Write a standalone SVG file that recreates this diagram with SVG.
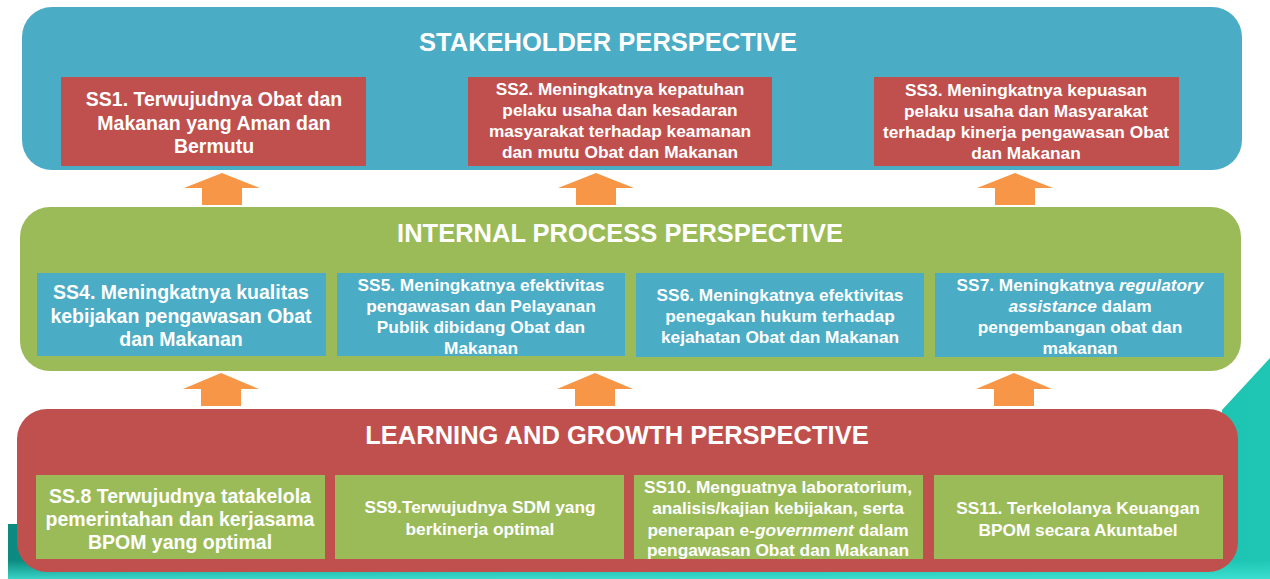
<svg xmlns="http://www.w3.org/2000/svg" width="1270" height="579" viewBox="0 0 1270 579">
<defs>
<linearGradient id="teal" x1="0" y1="0" x2="1" y2="0">
<stop offset="0" stop-color="#0c8a80"/>
<stop offset="0.35" stop-color="#14a89c"/>
<stop offset="1" stop-color="#1fc6b4"/>
</linearGradient>
<linearGradient id="tealb" x1="0" y1="0" x2="0" y2="1">
<stop offset="0" stop-color="#3ee0d0" stop-opacity="0"/>
<stop offset="1" stop-color="#45e6d8" stop-opacity="0.8"/>
</linearGradient>
<style>
.t{font-family:"Liberation Sans",Arial,sans-serif;font-weight:bold;fill:#fff;text-anchor:middle}
.title{font-size:25.5px}
.big{font-size:19.5px}
.sm{font-size:17.3px}
.i{font-style:italic}
.blue{fill:#4bacc6}
.green{fill:#9bbb59}
.red{fill:#c0504d}
.arrow{fill:#f79646}
</style>
</defs>
<rect width="1270" height="579" fill="#fff"/>
<g id="background">
<path d="M8,524 L1222,524 L1222,410 L1270,358 L1270,579 L8,579 Z" fill="url(#teal)"/>
<rect x="8" y="560" width="1262" height="19" fill="url(#tealb)"/>
</g>
<g id="stakeholder">
<rect class="blue" x="22" y="7" width="1220" height="163" rx="30"/>
<text class="t title" x="608" y="51">STAKEHOLDER PERSPECTIVE</text>
</g>
<g id="ss1">
<rect class="red" x="61" y="77" width="305" height="89"/>
<text class="t big" x="214"><tspan x="214" y="106">SS1. Terwujudnya Obat dan</tspan><tspan x="214" y="129.5">Makanan yang Aman dan</tspan><tspan x="214" y="153">Bermutu</tspan></text>
</g>
<g id="ss2">
<rect class="red" x="468" y="77" width="304" height="89"/>
<text class="t sm" x="620"><tspan x="620" y="95">SS2. Meningkatnya kepatuhan</tspan><tspan x="620" y="116">pelaku usaha dan kesadaran</tspan><tspan x="620" y="137">masyarakat terhadap keamanan</tspan><tspan x="620" y="158">dan mutu Obat dan Makanan</tspan></text>
</g>
<g id="ss3">
<rect class="red" x="874" y="77" width="305" height="89"/>
<text class="t sm" x="1026"><tspan x="1026" y="96">SS3. Meningkatnya kepuasan</tspan><tspan x="1026" y="117">pelaku usaha dan Masyarakat</tspan><tspan x="1026" y="138">terhadap kinerja pengawasan Obat</tspan><tspan x="1026" y="159">dan Makanan</tspan></text>
</g>
<g id="internal">
<rect class="green" x="20" y="207" width="1221" height="164" rx="30"/>
<text class="t title" x="620" y="242">INTERNAL PROCESS PERSPECTIVE</text>
</g>
<g id="ss4">
<rect class="blue" x="37" y="273" width="289" height="83"/>
<text class="t big" x="181"><tspan x="181" y="299">SS4. Meningkatnya kualitas</tspan><tspan x="181" y="322.5">kebijakan  pengawasan Obat</tspan><tspan x="181" y="346">dan Makanan</tspan></text>
</g>
<g id="ss5">
<rect class="blue" x="337" y="273" width="288" height="83"/>
<text class="t sm" x="481"><tspan x="481" y="291">SS5. Meningkatnya  efektivitas</tspan><tspan x="481" y="312">pengawasan dan Pelayanan</tspan><tspan x="481" y="333">Publik dibidang Obat  dan</tspan><tspan x="481" y="354">Makanan</tspan></text>
</g>
<g id="ss6">
<rect class="blue" x="636" y="273" width="288" height="84"/>
<text class="t sm" x="780"><tspan x="780" y="301">SS6. Meningkatnya  efektivitas</tspan><tspan x="780" y="322">penegakan hukum terhadap</tspan><tspan x="780" y="343">kejahatan Obat dan  Makanan</tspan></text>
</g>
<g id="ss7">
<rect class="blue" x="935" y="273" width="289" height="84"/>
<text class="t sm" x="1080"><tspan x="1080" y="291">SS7. Meningkatnya <tspan class="i">regulatory</tspan></tspan><tspan x="1080" y="312"><tspan class="i">assistance</tspan> dalam</tspan><tspan x="1080" y="333">pengembangan obat dan</tspan><tspan x="1080" y="354">makanan</tspan></text>
</g>
<g id="learning">
<rect class="red" x="17" y="409" width="1221" height="163" rx="30"/>
<text class="t title" x="617" y="444">LEARNING AND GROWTH PERSPECTIVE</text>
</g>
<g id="ss8">
<rect class="green" x="36" y="475" width="289" height="84"/>
<text class="t big" x="180"><tspan x="180" y="503">SS.8 Terwujudnya tatakelola</tspan><tspan x="180" y="526">pemerintahan dan kerjasama</tspan><tspan x="180" y="549">BPOM yang optimal</tspan></text>
</g>
<g id="ss9">
<rect class="green" x="335" y="475" width="289" height="84"/>
<text class="t sm" x="480"><tspan x="480" y="513">SS9.Terwujudnya SDM yang</tspan><tspan x="480" y="535">berkinerja optimal</tspan></text>
</g>
<g id="ss10">
<rect class="green" x="634" y="475" width="289" height="84"/>
<text class="t sm" x="778"><tspan x="778" y="493">SS10. Menguatnya laboratorium,</tspan><tspan x="778" y="514">analisis/kajian kebijakan, serta</tspan><tspan x="778" y="536">penerapan e-<tspan class="i">government</tspan> dalam</tspan><tspan x="778" y="556">pengawasan Obat dan Makanan</tspan></text>
</g>
<g id="ss11">
<rect class="green" x="934" y="475" width="289" height="84"/>
<text class="t sm" x="1078"><tspan x="1078" y="514">SS11. Terkelolanya Keuangan</tspan><tspan x="1078" y="536">BPOM secara Akuntabel</tspan></text>
</g>
<g id="connectors">
<polygon class="arrow" points="222,173 260,188 242,188 242,205 202,205 202,188 184,188"/>
<polygon class="arrow" points="596,173 634,188 616,188 616,205 576,205 576,188 558,188"/>
<polygon class="arrow" points="1015,173 1053,188 1035,188 1035,205 995,205 995,188 977,188"/>
<polygon class="arrow" points="221,373 259,389 241,389 241,406 201,406 201,389 183,389"/>
<polygon class="arrow" points="595,373 633,389 615,389 615,406 575,406 575,389 557,389"/>
<polygon class="arrow" points="1014,373 1052,389 1034,389 1034,406 994,406 994,389 976,389"/>
</g>
</svg>
